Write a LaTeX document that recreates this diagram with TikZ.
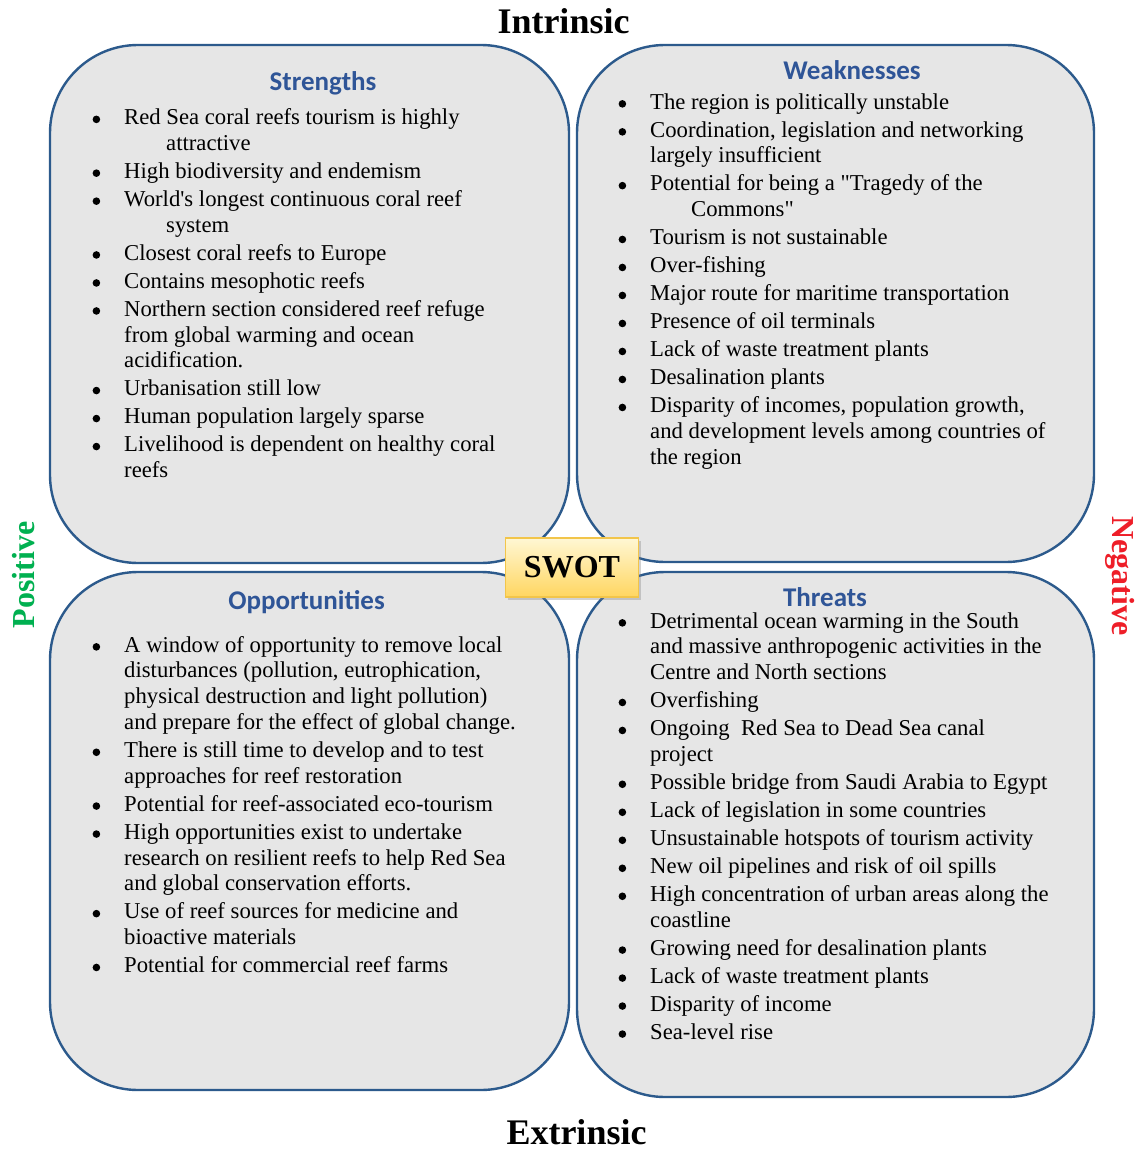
\documentclass[tikz,border=0pt]{standalone}
\usepackage{fontspec}
\setmainfont{Liberation Serif}[Ligatures=TeXOff]
\newfontfamily\headfont{Carlito}
\usetikzlibrary{shadows}
\definecolor{boxfill}{RGB}{230,230,230}
\definecolor{boxline}{RGB}{44,90,140}
\definecolor{headblue}{RGB}{47,85,151}
\definecolor{posgreen}{RGB}{0,176,80}
\definecolor{negred}{RGB}{238,30,40}
\definecolor{swottop}{RGB}{255,247,212}
\definecolor{swotbot}{RGB}{255,214,96}
\definecolor{swotline}{RGB}{242,197,74}
\newcommand\bul{\llap{\tikz[baseline=0pt]\fill (0pt,5.3pt) circle[radius=3.8pt];\hspace{24pt}}}
\newcommand\nx{\\[2.2pt]\bul}
\newcommand\hang{\hspace*{42pt}}
\begin{document}
\begin{tikzpicture}[x=1pt,y=-1pt,
  quad/.style={draw=boxline, line width=2.4pt, fill=boxfill, rounded corners=88pt},
  head/.style={anchor=base, inner sep=0, text=headblue, font=\headfont\bfseries\fontsize{27}{30}\selectfont},
  body/.style={anchor=north west, inner sep=0, align=left, font=\fontsize{22.7}{25.8}\selectfont},
  axis/.style={inner sep=0, font=\bfseries\fontsize{36}{40}\selectfont},
  side/.style={inner sep=0, font=\bfseries\fontsize{32}{36}\selectfont}]
\useasboundingbox[fill=white] (0,0) rectangle (1141,1150);
% quadrants
\draw[quad] (50,45) rectangle (569,563);
\draw[quad] (577,45) rectangle (1094,562);
\draw[quad] (50,572) rectangle (569,1090);
\draw[quad] (577,572) rectangle (1094,1097);
% headings
\node[head] (sh) at (323,90.5) {Strengths};
\node[head] (wh) at (852,79.3) {Weaknesses};
\node[head] (oh) at (306.5,609.5) {Opportunities};
\node[head] (th) at (825,606) {Threats};
% lists
\node[body] (st) at (124,106.4) {\strut\bul Red Sea coral reefs tourism is highly\\
\hang attractive\nx
High biodiversity and endemism\nx
World's longest continuous coral reef\\
\hang system\nx
Closest coral reefs to Europe\nx
Contains mesophotic reefs\nx
Northern section considered reef refuge\\
from global warming and ocean\\
acidification.\nx
Urbanisation still low\nx
Human population largely sparse\nx
Livelihood is dependent on healthy coral\\
reefs};
\node[body] (wt) at (650,90.9) {\strut\bul The region is politically unstable\nx
Coordination, legislation and networking\\
largely insufficient\nx
Potential for being a "Tragedy of the\\
\hspace*{41pt}Commons"\nx
Tourism is not sustainable\nx
Over-fishing\nx
Major route for maritime transportation\nx
Presence of oil terminals\nx
Lack of waste treatment plants\nx
Desalination plants\nx
Disparity of incomes, population growth,\\
and development levels among countries of\\
the region};
\node[body] (ot) at (124,633.9) {\strut\bul A window of opportunity to remove local\\
disturbances (pollution, eutrophication,\\
physical destruction and light pollution)\\
and prepare for the effect of global change.\nx
There is still time to develop and to test\\
approaches for reef restoration\nx
Potential for reef-associated eco-tourism\nx
High opportunities exist to undertake\\
research on resilient reefs to help Red Sea\\
and global conservation efforts.\nx
Use of reef sources for medicine and\\
bioactive materials\nx
Potential for commercial reef farms};
\node[body] (tt) at (650,609.9) {\strut\bul Detrimental ocean warming in the South\\
and massive anthropogenic activities in the\\
Centre and North sections\nx
Overfishing\nx
Ongoing~ Red Sea to Dead Sea canal\\
project\nx
Possible bridge from Saudi Arabia to Egypt\nx
Lack of legislation in some countries\nx
Unsustainable hotspots of tourism activity\nx
New oil pipelines and risk of oil spills\nx
High concentration of urban areas along the\\
coastline\nx
Growing need for desalination plants\nx
Lack of waste treatment plants\nx
Disparity of income\nx
Sea-level rise};
% SWOT centre
\node[draw=swotline, line width=1.2pt, top color=swottop, bottom color=swotbot,
  minimum width=133pt, minimum height=59pt, inner sep=0,
  drop shadow={shadow xshift=2pt, shadow yshift=-3pt, opacity=0.35},
  font=\bfseries\fontsize{32}{36}\selectfont] (swot) at (572,567.5) {SWOT};
% axis labels
\node[axis, anchor=base] (intr) at (563.5,34) {Intrinsic};
\node[axis, anchor=base] (extr) at (576.5,1144.5) {Extrinsic};
\node[side, text=posgreen, rotate=90] (pos) at (23.5,575) {Positive};
\node[side, text=negred, rotate=-90] (neg) at (1120,576) {Negative};
\end{tikzpicture}
\end{document}
